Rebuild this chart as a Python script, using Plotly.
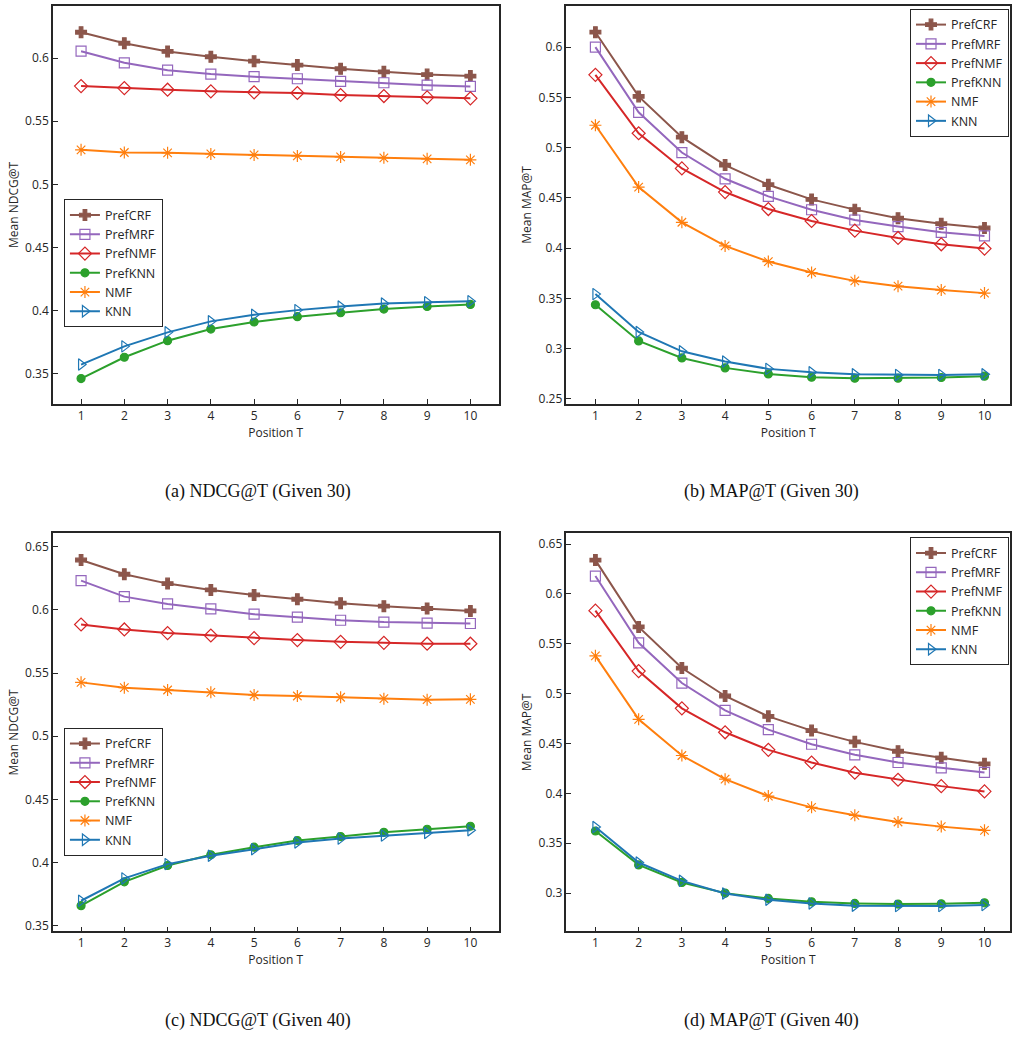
import plotly.graph_objects as go

# ---------------- data ----------------
positions_T = [1, 2, 3, 4, 5, 6, 7, 8, 9, 10]
series_names = ["PrefCRF", "PrefMRF", "PrefNMF", "PrefKNN", "NMF", "KNN"]

# (a) NDCG@T (Given 30)
ndcg30_prefcrf = [0.6205, 0.6118, 0.6053, 0.6011, 0.5976, 0.5945, 0.5916, 0.5892, 0.5870, 0.5858]
ndcg30_prefmrf = [0.6055, 0.5963, 0.5905, 0.5874, 0.5853, 0.5837, 0.5816, 0.5805, 0.5786, 0.5776]
ndcg30_prefnmf = [0.5779, 0.5763, 0.5750, 0.5737, 0.5729, 0.5724, 0.5708, 0.5700, 0.5689, 0.5682]
ndcg30_prefknn = [0.3463, 0.3632, 0.3763, 0.3855, 0.3911, 0.3953, 0.3984, 0.4013, 0.4034, 0.4050]
ndcg30_nmf = [0.5274, 0.5253, 0.5250, 0.5242, 0.5234, 0.5226, 0.5218, 0.5211, 0.5203, 0.5195]
ndcg30_knn = [0.3574, 0.3718, 0.3829, 0.3916, 0.3968, 0.4005, 0.4034, 0.4058, 0.4068, 0.4076]

# (b) MAP@T (Given 30)
map30_prefcrf = [0.6149, 0.5510, 0.5104, 0.4826, 0.4631, 0.4485, 0.4383, 0.4297, 0.4243, 0.4200]
map30_prefmrf = [0.6000, 0.5352, 0.4951, 0.4690, 0.4515, 0.4382, 0.4280, 0.4214, 0.4157, 0.4121]
map30_prefnmf = [0.5725, 0.5143, 0.4793, 0.4558, 0.4389, 0.4270, 0.4174, 0.4101, 0.4038, 0.3995]
map30_prefknn = [0.3436, 0.3076, 0.2907, 0.2808, 0.2748, 0.2715, 0.2705, 0.2705, 0.2712, 0.2725]
map30_nmf = [0.5223, 0.4607, 0.4257, 0.4022, 0.3866, 0.3757, 0.3674, 0.3621, 0.3582, 0.3552]
map30_knn = [0.3542, 0.3165, 0.2973, 0.2871, 0.2798, 0.2765, 0.2745, 0.2738, 0.2738, 0.2745]

# (c) NDCG@T (Given 40)
ndcg40_prefcrf = [0.6395, 0.6282, 0.6208, 0.6158, 0.6118, 0.6084, 0.6053, 0.6029, 0.6011, 0.5992]
ndcg40_prefmrf = [0.6232, 0.6105, 0.6047, 0.6008, 0.5966, 0.5942, 0.5918, 0.5903, 0.5895, 0.5892]
ndcg40_prefnmf = [0.5884, 0.5845, 0.5816, 0.5797, 0.5776, 0.5761, 0.5747, 0.5739, 0.5732, 0.5732]
ndcg40_prefknn = [0.3658, 0.3847, 0.3976, 0.4061, 0.4121, 0.4174, 0.4205, 0.4239, 0.4263, 0.4287]
ndcg40_nmf = [0.5426, 0.5384, 0.5366, 0.5347, 0.5326, 0.5318, 0.5308, 0.5297, 0.5289, 0.5292]
ndcg40_knn = [0.3697, 0.3874, 0.3987, 0.4053, 0.4105, 0.4158, 0.4189, 0.4213, 0.4234, 0.4255]

# (d) MAP@T (Given 40)
map40_prefcrf = [0.6340, 0.5670, 0.5257, 0.4977, 0.4773, 0.4630, 0.4517, 0.4423, 0.4357, 0.4297]
map40_prefmrf = [0.6180, 0.5510, 0.5107, 0.4833, 0.4640, 0.4493, 0.4387, 0.4310, 0.4257, 0.4210]
map40_prefnmf = [0.5833, 0.5227, 0.4853, 0.4613, 0.4437, 0.4310, 0.4207, 0.4137, 0.4073, 0.4020]
map40_prefknn = [0.3623, 0.3283, 0.3107, 0.3000, 0.2947, 0.2913, 0.2897, 0.2890, 0.2893, 0.2903]
map40_nmf = [0.5380, 0.4743, 0.4380, 0.4143, 0.3973, 0.3860, 0.3780, 0.3713, 0.3667, 0.3630]
map40_knn = [0.3663, 0.3307, 0.3123, 0.2997, 0.2933, 0.2897, 0.2873, 0.2870, 0.2870, 0.2880]

# tick labels
x_tick_labels = ["1", "2", "3", "4", "5", "6", "7", "8", "9", "10"]
ndcg30_ticks = [0.35, 0.4, 0.45, 0.5, 0.55, 0.6]
ndcg30_tick_labels = ["0.35", "0.4", "0.45", "0.5", "0.55", "0.6"]
map30_ticks = [0.25, 0.3, 0.35, 0.4, 0.45, 0.5, 0.55, 0.6]
map30_tick_labels = ["0.25", "0.3", "0.35", "0.4", "0.45", "0.5", "0.55", "0.6"]
ndcg40_ticks = [0.35, 0.4, 0.45, 0.5, 0.55, 0.6, 0.65]
ndcg40_tick_labels = ["0.35", "0.4", "0.45", "0.5", "0.55", "0.6", "0.65"]
map40_ticks = [0.3, 0.35, 0.4, 0.45, 0.5, 0.55, 0.6, 0.65]
map40_tick_labels = ["0.3", "0.35", "0.4", "0.45", "0.5", "0.55", "0.6", "0.65"]

captions = ["(a) NDCG@T (Given 30)", "(b) MAP@T (Given 30)",
            "(c) NDCG@T (Given 40)", "(d) MAP@T (Given 40)"]
y_titles = ["Mean NDCG@T", "Mean MAP@T", "Mean NDCG@T", "Mean MAP@T"]
x_title = "Position T"

# ---------------- styles ----------------
colors = ["#8c564b", "#9467bd", "#d62728", "#2ca02c", "#ff7f0e", "#1f77b4"]
symbols = ["cross", "square-open", "diamond-open", "circle", "asterisk-open", "triangle-right-open"]
sizes = [9, 10, 10, 8, 10, 10]
AX = "#262626"
FONT = "Open Sans"

panels = [
    ([ndcg30_prefcrf, ndcg30_prefmrf, ndcg30_prefnmf, ndcg30_prefknn, ndcg30_nmf, ndcg30_knn],
     ndcg30_ticks, ndcg30_tick_labels, [0.3263, 0.6413]),
    ([map30_prefcrf, map30_prefmrf, map30_prefnmf, map30_prefknn, map30_nmf, map30_knn],
     map30_ticks, map30_tick_labels, [0.245, 0.641]),
    ([ndcg40_prefcrf, ndcg40_prefmrf, ndcg40_prefnmf, ndcg40_prefknn, ndcg40_nmf, ndcg40_knn],
     ndcg40_ticks, ndcg40_tick_labels, [0.3455, 0.6605]),
    ([map40_prefcrf, map40_prefmrf, map40_prefnmf, map40_prefknn, map40_nmf, map40_knn],
     map40_ticks, map40_tick_labels, [0.2617, 0.6607]),
]

W, H = 1012, 1044
# pixel boxes: left, right, top, bottom
boxes = [(53, 499, 6, 405), (567, 1011, 6, 405), (53, 499, 535, 934), (567, 1011, 535, 934)]
x_ranges = [[0.35, 10.65], [0.33, 10.59], [0.35, 10.65], [0.33, 10.59]]
legend_pos = [(64, 200, "left"), (1010, 9, "right"), (64, 730, "left"), (1010, 539, "right")]
caption_pos = [(258, 493), (772, 493), (258, 1023), (772, 1023)]

fig = go.Figure()
layout = {}
for p, (series, yt, ytl, yr) in enumerate(panels):
    sfx = "" if p == 0 else str(p + 1)
    legname = "legend" + sfx
    for i, ys in enumerate(series):
        fig.add_trace(go.Scatter(
            x=positions_T, y=ys, name=series_names[i], mode="lines+markers",
            xaxis="x" + sfx, yaxis="y" + sfx, legend=legname,
            line=dict(color=colors[i], width=2),
            marker=dict(symbol=symbols[i], size=sizes[i], color=colors[i],
                        line=dict(color=colors[i], width=1.2)),
        ))
    l, r, t, b = boxes[p]
    common = dict(showline=True, mirror=True, linecolor=AX, linewidth=1.5,
                  ticks="inside", ticklen=5, tickcolor=AX, tickwidth=1,
                  showgrid=False, zeroline=False,
                  tickfont=dict(family=FONT, size=12, color=AX))
    layout["xaxis" + sfx] = dict(common, domain=[l / W, r / W], range=x_ranges[p],
                                 anchor="y" + sfx, tickvals=positions_T, ticktext=x_tick_labels,
                                 title=dict(text=x_title, standoff=4,
                                            font=dict(family=FONT, size=12, color=AX)))
    layout["yaxis" + sfx] = dict(common, domain=[1 - b / H, 1 - t / H], range=yr,
                                 anchor="x" + sfx, tickvals=yt, ticktext=ytl,
                                 title=dict(text=y_titles[p], standoff=4,
                                            font=dict(family=FONT, size=12, color=AX)))
    lx, ly, xa = legend_pos[p]
    layout[legname] = dict(x=lx / W, y=1 - ly / H, xanchor=xa, yanchor="top",
                           bgcolor="white", bordercolor=AX, borderwidth=1,
                           font=dict(family=FONT, size=12.5, color=AX),
                           tracegroupgap=0, itemwidth=30)

annotations = []
for p, (cx, cy) in enumerate(caption_pos):
    annotations.append(dict(text=captions[p], x=cx / W, y=1 - cy / H, xref="paper", yref="paper",
                            xanchor="center", yanchor="middle", showarrow=False,
                            font=dict(family="Liberation Serif", size=18, color="#111111")))

fig.update_layout(**layout)
fig.update_layout(width=W, height=H, margin=dict(l=0, r=0, t=0, b=0),
                  paper_bgcolor="white", plot_bgcolor="white",
                  annotations=annotations, showlegend=True)
fig.write_html("out.html")
